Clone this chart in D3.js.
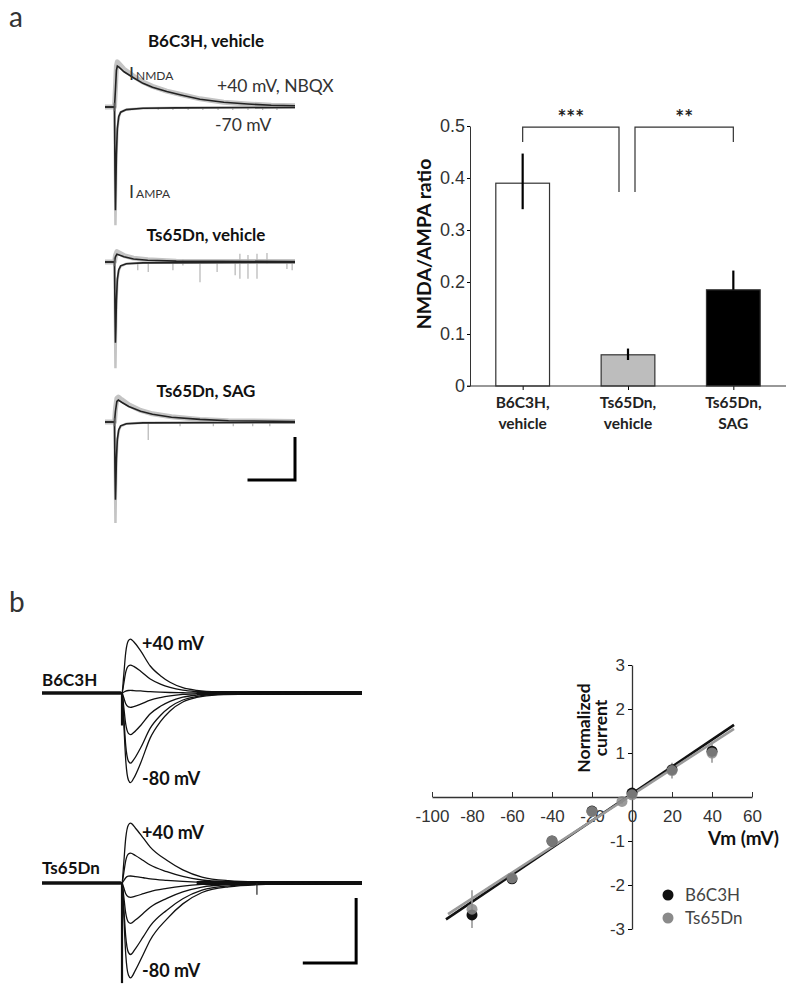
<!DOCTYPE html>
<html>
<head>
<meta charset="utf-8">
<script src="https://cdn.jsdelivr.net/npm/d3@7"></script>
<style>
  body { margin: 0; background: #fff; }
  svg { display: block; font-family: Lato, "Open Sans", sans-serif; }
  .tick text { fill: #333; }
</style>
</head>
<body>
<div id="fig"></div>
<script>
// ---------- panel a : traces (t in ms, current in pA) ----------
var aTitles = ["B6C3H, vehicle", "Ts65Dn, vehicle", "Ts65Dn, SAG"];

// averaged NMDA current at +40 mV (black) and the individual sweeps band (grey)
var nmdaMean = [
  [[0,0],[20,0],[22,40],[24,85],[26,95],[30,92],[40,82],[60,68],[80,55],[100,46],[130,36],[160,28],[200,18],[250,11],[300,7],[350,4],[400,3]],
  [[0,0],[20,0],[22,12],[25,18],[30,16],[40,12],[60,7],[90,4],[150,2],[400,1]],
  [[0,0],[20,0],[22,25],[25,48],[28,51],[35,46],[50,36],[75,25],[100,18],[140,11],[200,6],[260,3],[400,1]]
];
var nmdaAll = [
  [[0,0],[20,0],[22,45],[24,95],[26,105],[30,100],[40,88],[60,72],[80,58],[100,48],[130,37],[160,29],[200,19],[250,11],[300,7],[350,4],[400,3]],
  [[0,0],[20,0],[22,15],[25,24],[30,21],[40,15],[60,9],[90,5],[150,2],[400,1]],
  [[0,0],[20,0],[22,30],[25,55],[28,58],[35,52],[50,40],[75,27],[100,19],[140,12],[200,6],[260,3],[400,1]]
];
// AMPA current at -70 mV
var ampaMean = [
  [[0,0],[20,0],[21,-150],[22,-240],[23,-180],[24,-110],[26,-50],[29,-22],[33,-12],[45,-6],[80,-3],[150,-2],[400,-1]],
  [[0,0],[20,0],[21,-110],[22,-188],[23,-150],[24,-90],[26,-40],[29,-18],[33,-9],[45,-4],[80,-2],[400,-1]],
  [[0,0],[20,0],[21,-110],[22,-181],[23,-140],[24,-85],[26,-40],[29,-18],[33,-9],[45,-4],[80,-2],[400,-1]]
];
var ampaAll = [
  [[0,0],[20,0],[21,-160],[22,-275],[23,-200],[24,-120],[26,-55],[29,-24],[33,-12],[45,-6],[80,-3],[150,-2],[400,-1]],
  [[0,0],[20,0],[21,-140],[22,-247],[23,-170],[24,-100],[26,-45],[29,-20],[33,-10],[45,-4],[80,-2],[400,-1]],
  [[0,0],[20,0],[21,-140],[22,-235],[23,-160],[24,-95],[26,-45],[29,-20],[33,-10],[45,-4],[80,-2],[400,-1]]
];
// spontaneous events on the grey sweeps: [t, low, high]
var aSpikes = [
  [[112,-7,0],[143,-7,0],[175,-7,0],[206,-7,0],[238,-7,0],[269,-7,0],[301,-7,0],[332,-7,0],[362,-7,0]],
  [[69,-19,0],[91,-23,0],[143,-19,0],[164,-8,6],[200,-47,0],[236,-23,0],[274,-31,0],[284,-39,19],[301,-39,16],[320,-39,19],[341,-4,21],[383,-16,0],[394,-19,0]],
  [[91,-42,0],[158,-10,0],[228,-10,0],[270,-10,0],[311,-10,0],[347,-10,0]]
];
var aScaleBar = {ms: 100, pA: 100};

// ---------- panel a : NMDA/AMPA ratio bars ----------
var barLabels = [["B6C3H,", "vehicle"], ["Ts65Dn,", "vehicle"], ["Ts65Dn,", "SAG"]];
var barValues = [0.39, 0.06, 0.185];
var barErrLow = [0.34, 0.05, 0.185];
var barErrHigh = [0.447, 0.072, 0.222];
var barFills = ["#fff", "#bdbdbd", "#000"];
var barTicks = [0, 0.1, 0.2, 0.3, 0.4, 0.5];
// [from bar, to bar, label, left leg bottom, right leg bottom]
var sigBrackets = [[0, 1, "***", 0.469, 0.373], [1, 2, "**", 0.373, 0.469]];

// ---------- panel b : traces at different holding potentials ----------
var bVoltages = [40, 20, 0, -20, -40, -60, -80];
var bPeaksB6 = [41.5, 21.5, 2, -11, -32, -54, -69];
var bPeaksTs = [46, 23, 5.4, -11, -31, -55, -73];
// normalised waveform (t ms, fraction of peak)
var bShapeB6 = [[0,0],[150,0],[153,0.3],[157,0.75],[162,0.97],[166,1],[172,0.95],[185,0.78],[203,0.5],[222,0.32],[240,0.2],[264,0.1],[290,0.05],[330,0.02],[400,0.01],[600,0]];
var bShapeTs = [[0,0],[150,0],[153,0.3],[157,0.75],[162,0.97],[166,1],[175,0.92],[190,0.75],[203,0.6],[234,0.38],[264,0.22],[300,0.1],[350,0.04],[420,0.015],[600,0]];
var bArtifact = [-25, -77];
var bSpikes = [[], [[403, -9, 0]]];
var bScaleBar = {ms: 100, pA: 50};

// ---------- panel b : I-V relation ----------
var ivTicksX = [-100, -80, -60, -40, -20, 0, 20, 40, 60];
var ivTicksY = [-3, -2, -1, 1, 2, 3];
var ivB6V = [-80, -60, -40, -20, 0, 20, 40];
var ivB6I = [-2.68, -1.86, -1.0, -0.32, 0.09, 0.62, 1.04];
var ivB6Err = [0.1, 0.1, 0.05, 0.05, 0.05, 0.1, 0.1];
var ivTsV = [-80, -60, -40, -20, -5, 0, 20, 40];
var ivTsI = [-2.55, -1.84, -1.0, -0.33, -0.1, 0.05, 0.6, 1.0];
var ivTsErr = [0.43, 0.12, 0.05, 0.05, 0.05, 0.05, 0.18, 0.22];
var ivFitB6 = [[-93, -2.78], [51, 1.64]];
var ivFitTs = [[-92, -2.66], [51, 1.55]];
var ivSeries = ["B6C3H", "Ts65Dn"];
var ivColors = ["#111", "#8a8a8a"];

var svg = d3.select("#fig").append("svg")
    .attr("width", 800)
    .attr("height", 996);

svg.append("rect").attr("width", 800).attr("height", 996).attr("fill", "#fff");

// panel letters
svg.append("text").attr("x", 9).attr("y", 27).style("font-size", "28px").attr("fill", "#333").text("a");
svg.append("text").attr("x", 9).attr("y", 612).style("font-size", "28px").attr("fill", "#333").text("b");

// ===== panel a traces =====
var xA = d3.scaleLinear().domain([0, 400]).range([105, 295]);
var yA = d3.scaleLinear().domain([0, 100]).range([0, -43]);
var lineA = d3.line().x(function(d) { return xA(d[0]); }).y(function(d) { return yA(d[1]); });
var aBase = [107, 262, 422];
var aTitleY = [47, 241, 397];

aTitles.forEach(function(title, i) {
  svg.append("text")
    .attr("x", 206).attr("y", aTitleY[i])
    .attr("text-anchor", "middle")
    .style("font-size", "17px").style("font-weight", "bold")
    .attr("fill", "#111")
    .text(title);

  var g = svg.append("g").attr("transform", "translate(0," + aBase[i] + ")");

  // grey sweeps
  g.append("path").datum(nmdaAll[i]).attr("d", lineA)
    .attr("fill", "none").attr("stroke", "#c4c4c4").attr("stroke-width", 5).attr("stroke-linejoin", "round");
  g.append("path").datum(ampaAll[i]).attr("d", lineA)
    .attr("fill", "none").attr("stroke", "#c4c4c4").attr("stroke-width", 2.5);
  g.selectAll(".spk").data(aSpikes[i]).enter().append("line")
    .attr("x1", function(d) { return xA(d[0]); })
    .attr("x2", function(d) { return xA(d[0]); })
    .attr("y1", function(d) { return yA(d[1]); })
    .attr("y2", function(d) { return yA(d[2]); })
    .attr("stroke", "#b5b5b5").attr("stroke-width", 1.2);

  // averages
  g.append("path").datum(nmdaMean[i]).attr("d", lineA)
    .attr("fill", "none").attr("stroke", "#222").attr("stroke-width", 1.6);
  g.append("path").datum(ampaMean[i]).attr("d", lineA)
    .attr("fill", "none").attr("stroke", "#222").attr("stroke-width", 1.6);
  // stimulus artifact
  g.append("line")
    .attr("x1", xA(20)).attr("x2", xA(20))
    .attr("y1", yA(-10)).attr("y2", yA(10))
    .attr("stroke", "#555").attr("stroke-width", 1.5);
});

// labels on first trace
var lab = svg.append("g").attr("fill", "#333");
var t1 = lab.append("text").attr("x", 129).attr("y", 80).style("font-size", "18px");
t1.append("tspan").text("I");
t1.append("tspan").style("font-size", "12px").attr("dx", 2).text("NMDA");
lab.append("text").attr("x", 217).attr("y", 92).style("font-size", "17.5px").text("+40 mV, NBQX");
lab.append("text").attr("x", 215).attr("y", 131).style("font-size", "17.5px").text("-70 mV");
var t2 = lab.append("text").attr("x", 129).attr("y", 198).style("font-size", "18px");
t2.append("tspan").text("I");
t2.append("tspan").style("font-size", "12px").attr("dx", 2).text("AMPA");

// scale bar a
var sbA = svg.append("g").attr("transform", "translate(0," + aBase[2] + ")");
sbA.append("path")
  .attr("d", "M" + xA(400 - aScaleBar.ms) + "," + yA(-135) +
             "H" + xA(400) + "V" + yA(-135 + aScaleBar.pA))
  .attr("fill", "none").attr("stroke", "#000").attr("stroke-width", 3);

// ===== panel a bar chart =====
var xBar = d3.scaleBand().domain(d3.range(barValues.length)).range([470, 786])
    .paddingInner(0.49).paddingOuter(0.245);
var yBar = d3.scaleLinear().domain([0, 0.5]).range([386, 126]);

var bars = svg.append("g");
bars.selectAll(".bar").data(barValues).enter().append("rect")
  .attr("x", function(d, i) { return xBar(i); })
  .attr("y", function(d) { return yBar(d); })
  .attr("width", xBar.bandwidth())
  .attr("height", function(d) { return yBar(0) - yBar(d); })
  .attr("fill", function(d, i) { return barFills[i]; })
  .attr("stroke", "#333").attr("stroke-width", 1.2);

bars.selectAll(".err").data(barValues).enter().append("line")
  .attr("x1", function(d, i) { return xBar(i) + xBar.bandwidth() / 2; })
  .attr("x2", function(d, i) { return xBar(i) + xBar.bandwidth() / 2; })
  .attr("y1", function(d, i) { return yBar(barErrLow[i]); })
  .attr("y2", function(d, i) { return yBar(barErrHigh[i]); })
  .attr("stroke", "#000").attr("stroke-width", 2.2);

var yBarAxis = d3.axisLeft(yBar).tickValues(barTicks).tickSize(3).tickSizeOuter(0)
    .tickFormat(function(d) { return d === 0 ? "0" : d3.format(".1f")(d); });
var gyb = svg.append("g").attr("transform", "translate(470,0)").call(yBarAxis);
gyb.selectAll("text").style("font-size", "18px").attr("dx", 1);
gyb.select(".domain").attr("stroke", "#333");

var xBarAxis = d3.axisBottom(d3.scalePoint().domain(d3.range(3)).range([xBar(0) + xBar.bandwidth() / 2, xBar(2) + xBar.bandwidth() / 2]))
    .tickSize(4).tickFormat("");
var gxb = svg.append("g").attr("transform", "translate(0,386)").call(xBarAxis);
gxb.select(".domain").remove();
svg.append("line").attr("x1", 467).attr("x2", 786).attr("y1", 386).attr("y2", 386).attr("stroke", "#333").attr("stroke-width", 1.2);

barLabels.forEach(function(lines, i) {
  var t = svg.append("text")
    .attr("x", xBar(i) + xBar.bandwidth() / 2).attr("y", 408)
    .attr("text-anchor", "middle")
    .style("font-size", "15.5px").style("font-weight", "bold").attr("fill", "#222");
  lines.forEach(function(s, k) {
    t.append("tspan").attr("x", xBar(i) + xBar.bandwidth() / 2).attr("dy", k ? 21 : 0).text(s);
  });
});

svg.append("text")
  .attr("transform", "translate(431,244) rotate(-90)")
  .attr("text-anchor", "middle")
  .style("font-size", "19.5px").style("font-weight", "bold")
  .attr("fill", "#111")
  .text("NMDA/AMPA ratio");

sigBrackets.forEach(function(b) {
  var c0 = xBar(b[0]) + xBar.bandwidth() / 2 + (b[0] === 1 ? 7 : 0);
  var c1 = xBar(b[1]) + xBar.bandwidth() / 2 - (b[1] === 1 ? 9 : 0);
  svg.append("path")
    .attr("d", "M" + c0 + "," + yBar(b[3]) + "V" + yBar(0.498) + "H" + c1 + "V" + yBar(b[4]))
    .attr("fill", "none").attr("stroke", "#333").attr("stroke-width", 1.2);
  svg.append("text")
    .attr("x", (c0 + c1) / 2).attr("y", yBar(0.498) - 2)
    .attr("text-anchor", "middle")
    .style("font-size", "21px").style("font-weight", "bold").attr("fill", "#222")
    .text(b[2]);
});

// ===== panel b traces =====
var xB = d3.scaleLinear().domain([0, 600]).range([42, 362]);
var yB = d3.scaleLinear().domain([0, 50]).range([0, -65]);
var lineB = d3.line().x(function(d) { return xB(d[0]); }).y(function(d) { return yB(d[1]); })
    .curve(d3.curveMonotoneX);

var bSets = [
  {name: "B6C3H", base: 693, peaks: bPeaksB6, shape: bShapeB6, nameY: 686, upY: 650, downY: 785},
  {name: "Ts65Dn", base: 883, peaks: bPeaksTs, shape: bShapeTs, nameY: 874, upY: 839, downY: 977}
];

bSets.forEach(function(s, i) {
  var g = svg.append("g").attr("transform", "translate(0," + s.base + ")");
  // noisy baseline band
  g.append("line").attr("x1", xB(0)).attr("x2", xB(148)).attr("y1", yB(0)).attr("y2", yB(0))
    .attr("stroke", "#111").attr("stroke-width", 3.5);
  g.append("line").attr("x1", xB(290)).attr("x2", xB(600)).attr("y1", yB(0)).attr("y2", yB(0))
    .attr("stroke", "#111").attr("stroke-width", 4);
  s.peaks.forEach(function(p) {
    g.append("path")
      .datum(s.shape.map(function(d) { return [d[0], d[1] * p]; }))
      .attr("d", lineB)
      .attr("fill", "none").attr("stroke", "#111").attr("stroke-width", 1.3);
  });
  g.append("line").attr("x1", xB(150)).attr("x2", xB(150)).attr("y1", yB(0)).attr("y2", yB(bArtifact[i]))
    .attr("stroke", "#111").attr("stroke-width", 2.2);
  bSpikes[i].forEach(function(d) {
    g.append("line").attr("x1", xB(d[0])).attr("x2", xB(d[0])).attr("y1", yB(d[1])).attr("y2", yB(d[2]))
      .attr("stroke", "#222").attr("stroke-width", 1.2);
  });

  svg.append("text").attr("x", 42).attr("y", s.nameY)
    .style("font-size", "17px").style("font-weight", "bold").attr("fill", "#111").text(s.name);
  svg.append("text").attr("x", 142).attr("y", s.upY)
    .style("font-size", "18px").style("font-weight", "bold").attr("fill", "#111").text("+" + bVoltages[0] + " mV");
  svg.append("text").attr("x", 142).attr("y", s.downY)
    .style("font-size", "18px").style("font-weight", "bold").attr("fill", "#111").text(bVoltages[bVoltages.length - 1] + " mV");
});

var sbB = svg.append("g").attr("transform", "translate(0," + bSets[1].base + ")");
sbB.append("path")
  .attr("d", "M" + xB(589 - bScaleBar.ms) + "," + yB(-61.5) +
             "H" + xB(589) + "V" + yB(-61.5 + bScaleBar.pA))
  .attr("fill", "none").attr("stroke", "#000").attr("stroke-width", 3);

// ===== panel b I-V plot =====
var xIV = d3.scaleLinear().domain([-100, 60]).range([432, 752]);
var yIV = d3.scaleLinear().domain([-3, 3]).range([929, 665]);

var gx = svg.append("g").attr("transform", "translate(0," + yIV(0) + ")")
  .call(d3.axisBottom(xIV).tickValues(ivTicksX).tickSizeInner(-5).tickSizeOuter(0).tickPadding(13)
    .tickFormat(function(d) { return String(d); }));
gx.selectAll("text").style("font-size", "17px");
gx.select(".domain").attr("stroke", "#333").attr("stroke-width", 1.3);
gx.selectAll(".tick line").attr("stroke", "#333");

var gy = svg.append("g").attr("transform", "translate(" + xIV(0) + ",0)")
  .call(d3.axisLeft(yIV).tickValues(ivTicksY).tickSize(4).tickSizeOuter(0).tickPadding(3)
    .tickFormat(function(d) { return String(d); }));
gy.selectAll("text").style("font-size", "17px");
gy.select(".domain").attr("stroke", "#333").attr("stroke-width", 1.3);

svg.append("text").attr("x", 779).attr("y", 845).attr("text-anchor", "end")
  .style("font-size", "19px").style("font-weight", "bold").attr("fill", "#111").text("Vm (mV)");
var yl = svg.append("text").attr("transform", "translate(585,728) rotate(-90)")
  .attr("text-anchor", "middle").style("font-size", "17.5px").style("font-weight", "bold").attr("fill", "#111");
yl.append("tspan").attr("x", 0).attr("dy", 5).text("Normalized");
yl.append("tspan").attr("x", 0).attr("dy", 17).text("current");

// fit lines
var lineIV = d3.line().x(function(d) { return xIV(d[0]); }).y(function(d) { return yIV(d[1]); });
svg.append("path").datum(ivFitB6).attr("d", lineIV).attr("stroke", ivColors[0]).attr("stroke-width", 2.6).attr("fill", "none");
svg.append("path").datum(ivFitTs).attr("d", lineIV).attr("stroke", "#9a9a9a").attr("stroke-width", 2.6).attr("fill", "none");

// error bars
function errBars(vs, is, es) {
  svg.append("g").selectAll("line").data(vs).enter().append("line")
    .attr("x1", function(d) { return xIV(d); })
    .attr("x2", function(d) { return xIV(d); })
    .attr("y1", function(d, k) { return yIV(is[k] - es[k]); })
    .attr("y2", function(d, k) { return yIV(is[k] + es[k]); })
    .attr("stroke", "#999").attr("stroke-width", 1.6);
}
errBars(ivB6V, ivB6I, ivB6Err);
errBars(ivTsV, ivTsI, ivTsErr);

svg.append("g").selectAll("circle").data(ivB6V).enter().append("circle")
  .attr("cx", function(d) { return xIV(d); })
  .attr("cy", function(d, k) { return yIV(ivB6I[k]); })
  .attr("r", 5.5).attr("fill", ivColors[0]);
svg.append("g").selectAll("circle").data(ivTsV).enter().append("circle")
  .attr("cx", function(d) { return xIV(d); })
  .attr("cy", function(d, k) { return yIV(ivTsI[k]); })
  .attr("r", 5.5).attr("fill", ivColors[1]).attr("fill-opacity", 0.85);

// legend
ivSeries.forEach(function(name, k) {
  svg.append("circle").attr("cx", 668).attr("cy", 895 + k * 23).attr("r", 5.5).attr("fill", ivColors[k]);
  svg.append("text").attr("x", 685).attr("y", 901 + k * 23)
    .style("font-size", "17px").attr("fill", "#444").text(name);
});
</script>
</body>
</html>
